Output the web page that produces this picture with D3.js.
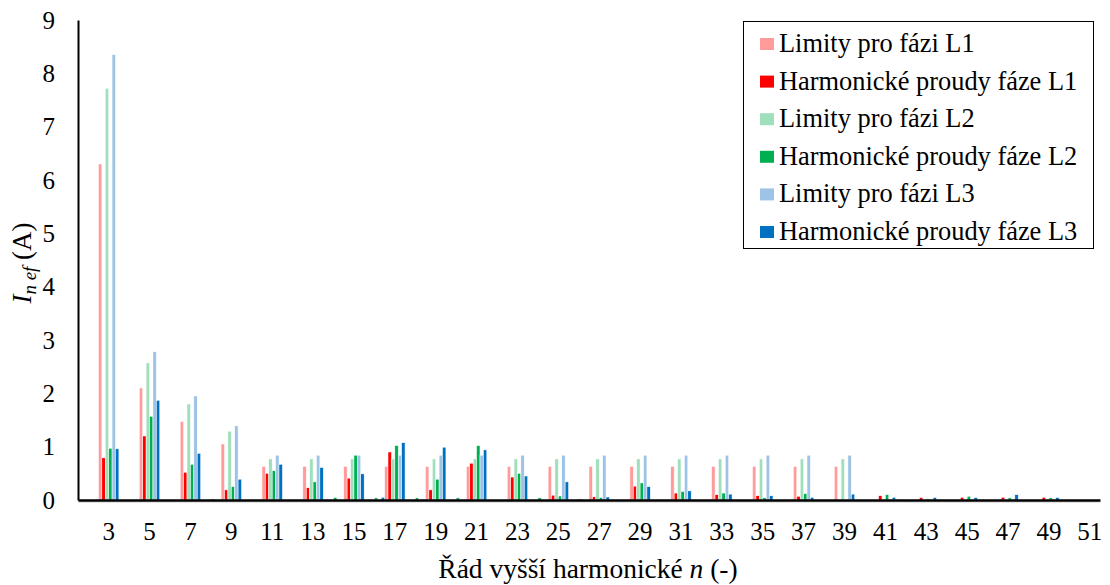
<!DOCTYPE html>
<html>
<head>
<meta charset="utf-8">
<script src="https://cdn.jsdelivr.net/npm/d3@7"></script>
<style>
  body { margin: 0; background: #fff; }
  svg text { font-family: "Liberation Serif", Tinos, "Times New Roman", Times, serif !important; fill: #000; }
</style>
</head>
<body>
<div id="chart"></div>
<script>
// harmonic orders on x axis (2..51), labels shown for odd ones
var harmonics = d3.range(2, 52);
var tickHarmonics = [3, 5, 7, 9, 11, 13, 15, 17, 19, 21, 23, 25, 27, 29, 31, 33, 35, 37, 39, 41, 43, 45, 47, 49, 51];
var yTicks = [0, 1, 2, 3, 4, 5, 6, 7, 8, 9];

var seriesNames = ["Limity pro fázi L1", "Harmonické proudy fáze L1", "Limity pro fázi L2",
  "Harmonické proudy fáze L2", "Limity pro fázi L3", "Harmonické proudy fáze L3"];
var seriesColors = ["#ff9b9b", "#ff0000", "#9fdfbc", "#00b050", "#9dc3e6", "#0070c0"];

// values for harmonics 2..51
var limL1 = [0, 6.30, 0, 2.10, 0, 1.47, 0, 1.05, 0, 0.63, 0, 0.63, 0, 0.63, 0, 0.63, 0, 0.63, 0, 0.63,
  0, 0.63, 0, 0.63, 0, 0.63, 0, 0.63, 0, 0.63, 0, 0.63, 0, 0.63, 0, 0.63, 0, 0.63,
  0, 0, 0, 0, 0, 0, 0, 0, 0, 0, 0, 0];
var curL1 = [0, 0.79, 0, 1.20, 0, 0.52, 0, 0.19, 0, 0.50, 0, 0.23, 0, 0.41, 0.01, 0.90, 0, 0.19, 0, 0.69,
  0, 0.43, 0, 0.09, 0, 0.06, 0, 0.26, 0, 0.13, 0, 0.10, 0, 0.08, 0, 0.07, 0, 0,
  0, 0.08, 0.01, 0.045, 0.01, 0.05, 0, 0.05, 0, 0.05, 0, 0];
var limL2 = [0, 7.72, 0, 2.57, 0, 1.80, 0, 1.29, 0, 0.77, 0, 0.77, 0, 0.77, 0, 0.77, 0, 0.77, 0, 0.77,
  0, 0.77, 0, 0.77, 0, 0.77, 0, 0.77, 0, 0.77, 0, 0.77, 0, 0.77, 0, 0.77, 0, 0.77,
  0, 0, 0, 0, 0, 0, 0, 0, 0, 0, 0, 0];
var curL2 = [0, 0.97, 0, 1.57, 0, 0.67, 0.02, 0.25, 0.01, 0.55, 0.01, 0.34, 0.045, 0.84, 0.04, 1.02, 0.04, 0.39, 0.04, 1.02,
  0, 0.50, 0.04, 0.075, 0.02, 0.045, 0, 0.32, 0.01, 0.16, 0, 0.13, 0, 0.04, 0, 0.12, 0, 0,
  0, 0.10, 0, 0.02, 0, 0.07, 0, 0.04, 0, 0.04, 0, 0];
var limL3 = [0, 8.35, 0, 2.78, 0, 1.95, 0, 1.39, 0, 0.84, 0, 0.84, 0, 0.84, 0, 0.84, 0, 0.84, 0, 0.84,
  0, 0.84, 0, 0.84, 0, 0.84, 0, 0.84, 0, 0.84, 0, 0.84, 0, 0.84, 0, 0.84, 0, 0.84,
  0, 0, 0, 0, 0, 0, 0, 0, 0, 0, 0, 0];
var curL3 = [0.01, 0.96, 0, 1.87, 0, 0.875, 0.01, 0.39, 0.01, 0.67, 0.01, 0.61, 0, 0.49, 0.05, 1.075, 0.01, 0.99, 0.01, 0.94,
  0.01, 0.45, 0.01, 0.34, 0, 0.056, 0, 0.25, 0.01, 0.17, 0, 0.11, 0, 0.08, 0.01, 0.05, 0, 0.11,
  0, 0.05, 0, 0.045, 0, 0.045, 0, 0.10, 0, 0.045, 0, 0];

var seriesValues = [limL1, curL1, limL2, curL2, limL3, curL3];

var serif = "'Liberation Serif', Tinos, 'Times New Roman', serif";

// size of svg
var svgWidth = 1110;
var svgHeight = 585;

// plot area in pixels
var plot = { left: 78, right: 1100, top: 20, bottom: 500 };

var svg = d3.select("#chart")
  .append("svg")
  .attr("width", svgWidth)
  .attr("height", svgHeight)
  .attr("font-family", serif);

// scales
var xScale = d3.scaleBand()
  .domain(harmonics)
  .range([plot.left, plot.right])
  .padding(0);

var xInner = d3.scaleBand()
  .domain(d3.range(seriesNames.length))
  .range([0, xScale.bandwidth()])
  .padding(0);

var yScale = d3.scaleLinear()
  .domain([0, 9])
  .range([plot.bottom, plot.top]);

// bars, one group per series
seriesValues.forEach(function(vals, s) {
  svg.append("g")
    .selectAll("rect")
    .data(harmonics.map(function(h, i) { return { h: h, v: vals[i] }; }).filter(function(d) { return d.v > 0; }))
    .enter()
    .append("rect")
    .attr("x", function(d) { return xScale(d.h) + xInner(s); })
    .attr("y", function(d) { return yScale(d.v); })
    .attr("width", xInner.bandwidth())
    .attr("height", function(d) { return yScale(0) - yScale(d.v); })
    .attr("fill", seriesColors[s])
    .attr("stroke", "#fff")
    .attr("stroke-width", 0.5);
});

// y axis
var leftAxis = d3.axisLeft(yScale)
  .tickValues(yTicks)
  .tickSize(0)
  .tickPadding(23)
  .tickFormat(d3.format("d"));

var yAxisG = svg.append("g")
  .attr("transform", "translate(" + plot.left + ",0)")
  .call(leftAxis)
  .attr("font-family", serif)
  .attr("font-size", 25);
yAxisG.select(".domain").attr("stroke", "#000").attr("stroke-width", 2);

// x axis
var bottomAxis = d3.axisBottom(xScale)
  .tickValues(tickHarmonics)
  .tickSize(0)
  .tickPadding(22);

// light shadow under axis line
svg.append("line")
  .attr("x1", plot.left).attr("x2", plot.right)
  .attr("y1", plot.bottom + 2).attr("y2", plot.bottom + 2)
  .attr("stroke", "#d9d9d9")
  .attr("stroke-width", 1.5);

var xAxisG = svg.append("g")
  .attr("transform", "translate(0," + plot.bottom + ")")
  .call(bottomAxis)
  .attr("font-family", serif)
  .attr("font-size", 25);
xAxisG.select(".domain").attr("stroke", "#000").attr("stroke-width", 2.5);

// axis titles
var xTitle = svg.append("text")
  .attr("x", 588)
  .attr("y", 578)
  .attr("text-anchor", "middle")
  .style("font-size", "27.5px");
xTitle.append("tspan").text("Řád vyšší harmonické ");
xTitle.append("tspan").style("font-style", "italic").text("n");
xTitle.append("tspan").text(" (-)");

var yTitle = svg.append("text")
  .attr("transform", "translate(31,263) rotate(-90)")
  .attr("text-anchor", "middle")
  .style("font-size", "27px");
yTitle.append("tspan").style("font-style", "italic").text("I");
yTitle.append("tspan").style("font-style", "italic").style("font-size", "19px").attr("dy", 5).text("n ef");
yTitle.append("tspan").attr("dy", -5).text(" (A)");

// legend
var legend = svg.append("g");
legend.append("rect")
  .attr("x", 743.5)
  .attr("y", 21.5)
  .attr("width", 350)
  .attr("height", 227)
  .attr("fill", "#fff")
  .attr("stroke", "#000")
  .attr("stroke-width", 1);

var legendItem = legend.selectAll(".item")
  .data(seriesNames)
  .enter()
  .append("g")
  .attr("class", "item")
  .attr("transform", function(d, i) { return "translate(760," + (44 + i * 37.6) + ")"; });

legendItem.append("rect")
  .attr("x", 0)
  .attr("y", -6)
  .attr("width", 14)
  .attr("height", 12)
  .attr("fill", function(d, i) { return seriesColors[i]; });

legendItem.append("text")
  .attr("x", 19)
  .attr("y", 8)
  .style("font-size", "26.4px")
  .text(function(d) { return d; });
</script>
</body>
</html>
